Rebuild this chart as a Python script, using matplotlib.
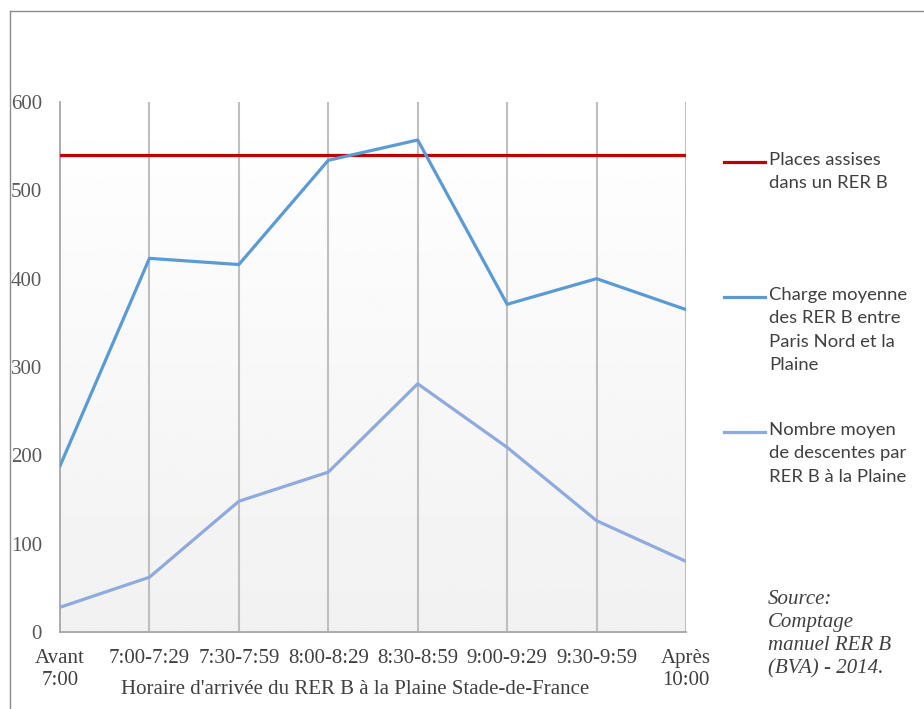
import numpy as np
import matplotlib.pyplot as plt
from matplotlib.lines import Line2D

categories = ["Avant\n7:00", "7:00-7:29", "7:30-7:59", "8:00-8:29", "8:30-8:59",
              "9:00-9:29", "9:30-9:59", "Après\n10:00"]
places_assises = [540, 540, 540, 540, 540, 540, 540, 540]
charge_moyenne = [188, 423, 416, 534, 557, 371, 400, 365]
descentes = [28, 62, 148, 181, 281, 209, 126, 80]

legend_labels = ["Places assises\ndans un RER B",
                 "Charge moyenne\ndes RER B entre\nParis Nord et la\nPlaine",
                 "Nombre moyen\nde descentes par\nRER B à la Plaine"]
colors = ["#C00000", "#5B9BD5", "#8EAADF"]

fig = plt.figure(figsize=(9.24, 7.09), dpi=100)
ax = fig.add_axes([60/924, 1 - 632/709, 626/924, 530/709])

x = np.arange(len(categories))

# fond en degrade
grad = np.linspace(1.0, 0.945, 256).reshape(-1, 1)
ax.imshow(grad, cmap="gray", vmin=0, vmax=1, aspect="auto",
          extent=[0, 7, 0, 600], origin="upper", zorder=0)

for xi in x[1:]:
    ax.axvline(xi, color="#bfbfbf", lw=1.5, zorder=1)

ax.plot(x, places_assises, color=colors[0], lw=2.3, zorder=3)
ax.plot(x, charge_moyenne, color=colors[1], lw=2.3, zorder=3)
ax.plot(x, descentes, color=colors[2], lw=2.3, zorder=3)

ax.set_xlim(0, 7)
ax.set_ylim(0, 600)
ax.set_yticks(range(0, 601, 100))
ax.set_xticks(x)
ax.set_xticklabels(categories, family="Liberation Serif", fontsize=15, color="#404040",
                   linespacing=1.25)
for lab in ax.get_yticklabels():
    lab.set_family("Liberation Serif")
    lab.set_fontsize(15)
    lab.set_color("#595959")
ax.tick_params(axis="y", length=0, pad=13)
ax.tick_params(axis="x", length=0, pad=12)
for s in ["top", "right"]:
    ax.spines[s].set_visible(False)
ax.spines["left"].set_color("#a6a6a6")
ax.spines["bottom"].set_color("#a6a6a6")
ax.spines["left"].set_linewidth(1.3)
ax.spines["bottom"].set_linewidth(1.3)

fig.text(355/924, 1 - 690/709, "Horaire d'arrivée du RER B à la Plaine Stade-de-France",
         family="Liberation Serif", fontsize=15, color="#404040", ha="center", va="center")

# legende
leg_y = [162, 297, 432]
for lab, c, yy in zip(legend_labels, colors, leg_y):
    fig.add_artist(Line2D([724/924, 765/924], [1 - yy/709, 1 - yy/709], color=c, lw=2.3))
    fig.text(769/924, 1 - (yy - 10)/709, lab, family="Lato", fontsize=13.3, color="#404040",
             ha="left", va="top", linespacing=1.57)

fig.text(768/924, 1 - 590/709, "Source:\nComptage\nmanuel RER B\n(BVA) - 2014.",
         family="Liberation Serif", style="italic", fontsize=15, color="#404040",
         ha="left", va="top", linespacing=1.3)

# cadre
fig.add_artist(Line2D([10/924, 1], [1 - 11/709, 1 - 11/709], color="#8c8c8c", lw=1))
fig.add_artist(Line2D([10/924, 10/924], [1 - 11/709, 0], color="#8c8c8c", lw=1))

fig.savefig("out.png", dpi=100)
